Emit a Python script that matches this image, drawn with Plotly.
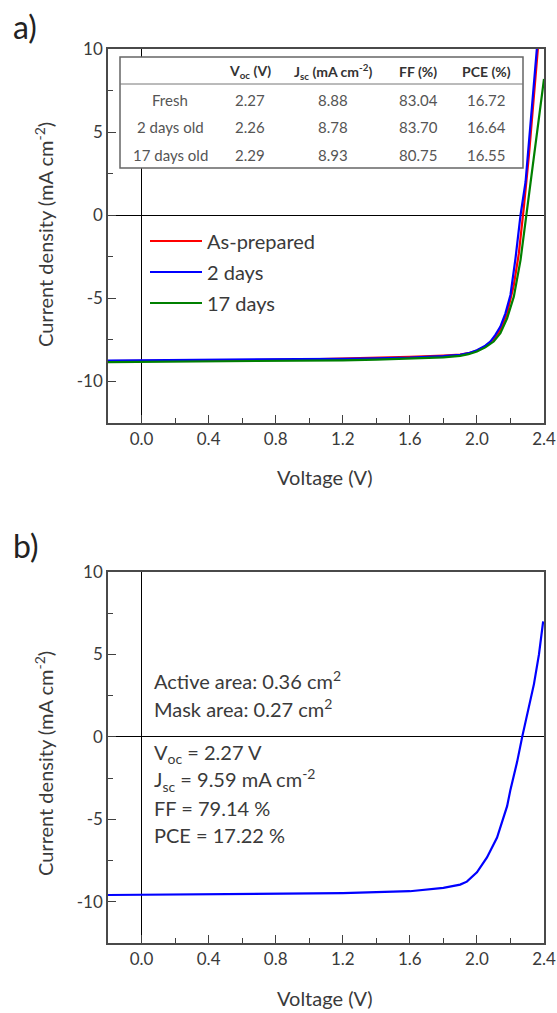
import plotly.graph_objects as go

# ---------------- data ----------------
# Panel a: J-V curves (Voltage V, current density mA cm^-2)
v_fresh = [-0.2, 0.0, 0.2, 0.4, 0.6, 0.8, 1.0, 1.2, 1.4, 1.6, 1.8, 1.9, 1.95, 2.0, 2.05, 2.1, 2.14, 2.18, 2.22, 2.25, 2.28, 2.31, 2.34, 2.37]
j_fresh = [-8.78, -8.77, -8.76, -8.74, -8.72, -8.70, -8.67, -8.63, -8.58, -8.52, -8.44, -8.38, -8.30, -8.14, -7.90, -7.45, -6.90, -5.90, -4.20, -2.30, 0.50, 3.60, 7.20, 10.8]

v_2days = [-0.2, 0.0, 0.2, 0.4, 0.6, 0.8, 1.0, 1.2, 1.4, 1.6, 1.8, 1.9, 1.95, 2.0, 2.05, 2.08, 2.11, 2.14, 2.17, 2.2, 2.23, 2.26, 2.29, 2.32, 2.35, 2.37]
j_2days = [-8.74, -8.73, -8.72, -8.71, -8.70, -8.68, -8.66, -8.64, -8.61, -8.57, -8.48, -8.40, -8.30, -8.12, -7.85, -7.60, -7.20, -6.70, -5.90, -4.80, -2.60, 0.00, 2.00, 5.60, 9.20, 11.5]

v_17days = [-0.2, 0.0, 0.2, 0.4, 0.6, 0.8, 1.0, 1.2, 1.4, 1.6, 1.8, 1.9, 1.95, 2.0, 2.05, 2.1, 2.14, 2.18, 2.22, 2.26, 2.29, 2.32, 2.35, 2.38, 2.4]
j_17days = [-8.84, -8.83, -8.82, -8.81, -8.80, -8.78, -8.76, -8.73, -8.69, -8.64, -8.55, -8.46, -8.36, -8.20, -7.95, -7.60, -7.10, -6.20, -4.90, -2.70, -0.30, 2.00, 4.20, 6.60, 8.20]

series_names = ["As-prepared", "2 days", "17 days"]
series_colors = ["#ff0000", "#0000ff", "#008000"]

# Table in panel a
table_header = ["", "V<sub>oc</sub> (V)", "J<sub>sc</sub> (mA cm<sup>-2</sup>)", "FF (%)", "PCE (%)"]
table_rows = ["Fresh", "2 days old", "17 days old"]
table_voc = ["2.27", "2.26", "2.29"]
table_jsc = ["8.88", "8.78", "8.93"]
table_ff = ["83.04", "83.70", "80.75"]
table_pce = ["16.72", "16.64", "16.55"]

# Panel b: champion device
v_b = [-0.2, 0.0, 0.4, 0.8, 1.2, 1.6, 1.8, 1.9, 1.94, 2.0, 2.06, 2.12, 2.18, 2.2, 2.24, 2.27, 2.3, 2.34, 2.37, 2.395]
j_b = [-9.59, -9.58, -9.55, -9.52, -9.48, -9.36, -9.16, -8.96, -8.78, -8.21, -7.31, -6.10, -4.20, -3.20, -1.50, 0.00, 1.40, 3.20, 5.00, 7.00]

info_b_area = ["Active area: 0.36 cm<sup>2</sup>", "Mask area: 0.27 cm<sup>2</sup>"]
info_b_params = ["V<sub>oc</sub> = 2.27 V", "J<sub>sc</sub> = 9.59 mA cm<sup>-2</sup>", "FF = 79.14 %", "PCE = 17.22 %"]

x_ticks = [0.0, 0.4, 0.8, 1.2, 1.6, 2.0, 2.4]
y_ticks = [-10, -5, 0, 5, 10]

# ---------------- layout helpers ----------------
W, H = 557, 1013
FONT = "Lato"
TXT = "#3a3a3a"


def px(x):
    return x / W


def py(y):
    return 1 - y / H


fig = go.Figure()

legend_ids = ["legend", "legend2", "legend3"]
for v, j, name, col, lg in zip([v_fresh, v_2days, v_17days], [j_fresh, j_2days, j_17days],
                               series_names, series_colors, legend_ids):
    fig.add_trace(go.Scatter(x=v, y=j, mode="lines", name=name, legend=lg,
                             line=dict(color=col, width=2.2), xaxis="x", yaxis="y"))

fig.add_trace(go.Scatter(x=v_b, y=j_b, mode="lines", name="Device", showlegend=False,
                         line=dict(color="#0000ff", width=2.2), xaxis="x2", yaxis="y2"))

axis_common = dict(
    showline=True, mirror=True, linecolor="#4a4a4a", linewidth=1.5,
    ticks="inside", ticklen=8, tickcolor="#404040", tickwidth=1,
    showgrid=False, zeroline=True, zerolinecolor="#000000", zerolinewidth=1,
    automargin=False,
    tickfont=dict(family=FONT, size=17, color=TXT),
)
xcommon = dict(axis_common, range=[-0.2, 2.4], tickmode="array", tickvals=x_ticks,
               ticktext=["%.1f" % t for t in x_ticks],
               minor=dict(dtick=0.2, tick0=0, ticks="inside", ticklen=5, tickcolor="#404040"))
ycommon = dict(axis_common, range=[-12.5, 10], tickmode="array", tickvals=y_ticks,
               ticktext=[str(t) for t in y_ticks],
               minor=dict(dtick=2.5, tick0=0, ticks="inside", ticklen=5, tickcolor="#404040"))

leg_common = dict(xanchor="left", yanchor="middle", font=dict(family=FONT, size=20, color=TXT),
                  bgcolor="rgba(0,0,0,0)", borderwidth=0, itemwidth=52)

fig.update_layout(
    width=W, height=H, autosize=False,
    margin=dict(l=0, r=0, t=0, b=0, pad=0, autoexpand=False),
    paper_bgcolor="white", plot_bgcolor="white",
    font=dict(family=FONT, color=TXT),
    xaxis=dict(xcommon, domain=[px(108), px(544)], anchor="y"),
    yaxis=dict(ycommon, domain=[py(423), py(49)], anchor="x"),
    xaxis2=dict(xcommon, domain=[px(108), px(544)], anchor="y2"),
    yaxis2=dict(ycommon, domain=[py(943), py(572)], anchor="x2"),
    legend=dict(leg_common, x=px(145), y=py(241)),
    legend2=dict(leg_common, x=px(145), y=py(272)),
    legend3=dict(leg_common, x=px(145), y=py(303)),
    showlegend=True,
)

ann = []
# panel labels
ann.append(dict(text="a)", x=px(11), y=py(26), xref="paper", yref="paper", xanchor="left", yanchor="middle",
                showarrow=False, font=dict(family=FONT, size=32, color="#222")))
ann.append(dict(text="b)", x=px(11), y=py(545), xref="paper", yref="paper", xanchor="left", yanchor="middle",
                showarrow=False, font=dict(family=FONT, size=32, color="#222")))
# axis titles
ann.append(dict(text="Voltage (V)", x=px(325), y=py(477), xref="paper", yref="paper", showarrow=False,
                xanchor="center", yanchor="middle", font=dict(family=FONT, size=20, color=TXT)))
ann.append(dict(text="Voltage (V)", x=px(325), y=py(998), xref="paper", yref="paper", showarrow=False,
                xanchor="center", yanchor="middle", font=dict(family=FONT, size=20, color=TXT)))
ann.append(dict(text="Current density (mA cm<sup>-2</sup>)", x=px(44), y=py(235), xref="paper", yref="paper",
                showarrow=False, textangle=-90, xanchor="center", yanchor="middle",
                font=dict(family=FONT, size=20, color=TXT)))
ann.append(dict(text="Current density (mA cm<sup>-2</sup>)", x=px(44), y=py(764), xref="paper", yref="paper",
                showarrow=False, textangle=-90, xanchor="center", yanchor="middle",
                font=dict(family=FONT, size=20, color=TXT)))

# table
shapes = []
shapes.append(dict(type="rect", xref="paper", yref="paper", x0=px(120), x1=px(523), y0=py(168), y1=py(57),
                   fillcolor="white", line=dict(color="#666", width=1.5), layer="above"))
shapes.append(dict(type="line", xref="paper", yref="paper", x0=px(120), x1=px(523), y0=py(84), y1=py(84),
                   line=dict(color="#777", width=1), layer="above"))
col_x = [170, 250, 333, 418, 486]
row_y = [100, 127, 155]
for cx, h in zip(col_x, table_header):
    if h:
        ann.append(dict(text="<b>" + h + "</b>", x=px(cx), y=py(71), xref="paper", yref="paper", showarrow=False,
                        xanchor="center", yanchor="middle", font=dict(family=FONT, size=14, color="#333")))
for i, ry in enumerate(row_y):
    vals = [table_rows[i], table_voc[i], table_jsc[i], table_ff[i], table_pce[i]]
    for cx, t in zip(col_x, vals):
        ann.append(dict(text=t, x=px(cx), y=py(ry), xref="paper", yref="paper", showarrow=False,
                        xanchor="center", yanchor="middle", font=dict(family=FONT, size=15, color="#555")))

# panel b text
for t, ty in zip(info_b_area, [680, 708]):
    ann.append(dict(text=t, x=px(152), y=py(ty), xref="paper", yref="paper", showarrow=False,
                    xanchor="left", yanchor="middle", font=dict(family=FONT, size=20, color=TXT)))
for t, ty in zip(info_b_params, [753, 780, 808, 835]):
    ann.append(dict(text=t, x=px(152), y=py(ty), xref="paper", yref="paper", showarrow=False,
                    xanchor="left", yanchor="middle", font=dict(family=FONT, size=20, color=TXT)))

fig.update_layout(annotations=ann, shapes=shapes)
fig.write_html("out.html")
